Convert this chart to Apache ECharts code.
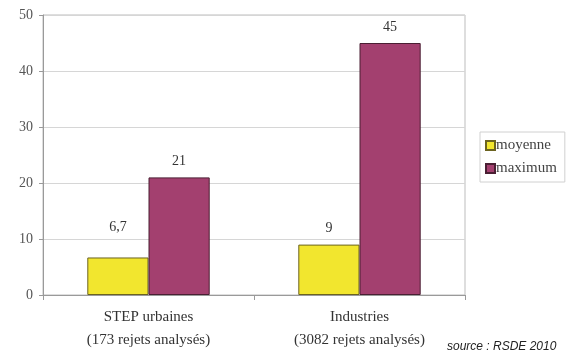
<!DOCTYPE html>
<html>
<head>
<meta charset="utf-8">
<script src="https://cdn.jsdelivr.net/npm/echarts@6/dist/echarts.min.js"></script>
<style>
  html, body { margin: 0; padding: 0; background: #fff; }
  #chart { width: 585px; height: 361px; }
</style>
</head>
<body>
<div id="chart"></div>
<script>
// données
const categories = ['STEP urbaines\n(173 rejets analysés)', 'Industries\n(3082 rejets analysés)'];
const moyenne = [6.7, 9];
const maximum = [21, 45];
const seriesNames = ['moyenne', 'maximum'];
const yTicks = [0, 10, 20, 30, 40, 50];

const serif = "'Liberation Serif', 'DejaVu Serif', serif";
const fmt = (v) => String(v).replace('.', ',');

const chart = echarts.init(document.getElementById('chart'), null, { renderer: 'canvas' });

const labelStyle = {
  show: true,
  position: 'top',
  distance: 9,
  fontFamily: serif,
  fontSize: 14,
  color: '#333',
  formatter: (p) => fmt(p.value)
};

chart.setOption({
  animation: false,
  backgroundColor: '#ffffff',
  grid: { left: 43, right: 120, top: 15, bottom: 66, show: true, borderColor: '#bdbdbd', borderWidth: 1 },
  legend: {
    data: seriesNames,
    orient: 'vertical',
    left: 480,
    top: 132,
    padding: [6, 8, 6, 5],
    itemGap: 8,
    itemWidth: 9,
    itemHeight: 9,
    icon: 'rect',
    borderColor: '#d0d0d0',
    borderWidth: 1,
    textStyle: { fontFamily: serif, fontSize: 15, color: '#444', padding: [0, 0, 0, -4] }
  },
  xAxis: {
    type: 'category',
    data: categories,
    axisLine: { lineStyle: { color: '#9a9a9a' } },
    axisTick: { show: true, alignWithLabel: false, lineStyle: { color: '#9a9a9a' } },
    axisLabel: { fontFamily: serif, fontSize: 15, color: '#333', lineHeight: 23, margin: 11 }
  },
  yAxis: {
    type: 'value',
    min: yTicks[0],
    max: yTicks[yTicks.length - 1],
    interval: 10,
    axisLine: { show: true, lineStyle: { color: '#9a9a9a' } },
    axisTick: { show: true, length: 4, lineStyle: { color: '#9a9a9a' } },
    axisLabel: { fontFamily: serif, fontSize: 14, color: '#555', margin: 10 },
    splitLine: { lineStyle: { color: '#d6d6d6' } }
  },
  series: [
    {
      name: seriesNames[0],
      type: 'bar',
      data: moyenne.map((v, i) => i === 0 ? { value: v, label: { distance: 23 } } : v),
      barGap: '0%',
      barCategoryGap: '42%',
      itemStyle: { color: '#f2e62e', borderColor: '#6b6320', borderWidth: 1 },
      label: labelStyle
    },
    {
      name: seriesNames[1],
      type: 'bar',
      data: maximum,
      barGap: '0%',
      barCategoryGap: '42%',
      itemStyle: { color: '#a3406f', borderColor: '#4a1f33', borderWidth: 1 },
      label: labelStyle
    }
  ],
  graphic: [{
    type: 'text',
    left: 447,
    top: 341,
    style: { text: 'source : RSDE 2010', font: "italic 12px 'Liberation Sans', Arial, sans-serif", fill: '#222' }
  }]
});
</script>
</body>
</html>
